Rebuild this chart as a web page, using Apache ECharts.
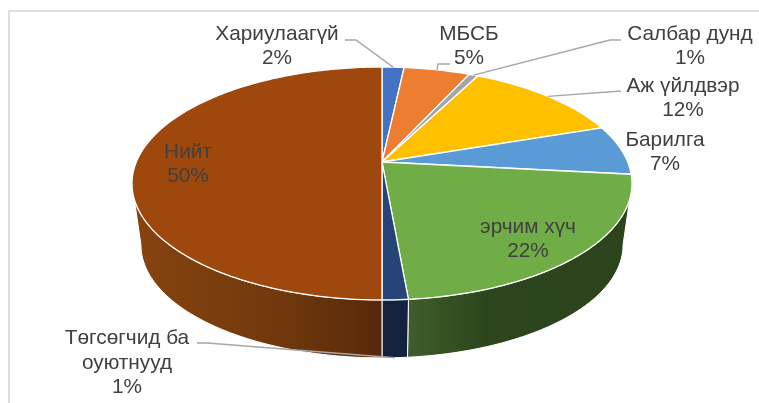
<!DOCTYPE html>
<html>
<head>
<meta charset="utf-8">
<style>html,body{margin:0;padding:0;background:#fff}#chart{width:759px;height:403px}</style>
<script src="https://cdn.jsdelivr.net/npm/echarts@6/dist/echarts.min.js"></script>
</head>
<body>
<div id="chart"></div>
<script>
const categories = ["Хариулаагүй", "МБСБ", "Салбар дунд", "Аж үйлдвэр", "Барилга", "эрчим хүч", "Төгсөгчид ба\nоуютнууд", "Нийт"];
const shares = [1.7, 5.1, 0.7, 12.3, 6.9, 21.9, 1.4, 50];
const colors = ["#4472c4", "#ed7d31", "#a5a5a5", "#ffc000", "#5b9bd5", "#70ad47", "#264478", "#9e480e"];

// where each label sits, and the elbow of its leader line
const labelSpots = [
  { x: 277, y: 46.5, line: [[345, 40], [356, 40]] },
  { x: 469, y: 46.5, line: [[450, 64], [438, 64]] },
  { x: 690, y: 46.5, line: [[621, 40], [610, 40]] },
  { x: 683, y: 98.5, line: [[621, 91]] },
  { x: 665, y: 152.5 },
  { x: 528, y: 239.5 },
  { x: 127, y: 363, line: [[197, 343], [207, 343]], onBase: true },
  { x: 188, y: 164.5 },
];

// tilted disc: lid and base are the same circle seen in perspective
const lid = { x: 382, y: 162, a: 245.7, b: 112.5, k: 0.1845 };
const base = { x: 382, y: 224.2, a: 236.9, b: 109, k: 0.1845 };
const WALL_FROM = 100.6, WALL_TO = 259.4;

const total = shares.reduce((s, v) => s + v, 0);
const starts = [];
shares.reduce((s, v, i) => ((starts[i] = s), s + v), 0);
const toDeg = (share) => (share / total) * 360;

function project(disc, deg) {
  const t = (deg * Math.PI) / 180;
  const u = Math.sin(t), v = -Math.cos(t);
  const w = 1 - disc.k * v;
  return [disc.x + (disc.a * u) / w, disc.y + (disc.b * v) / w];
}

function arc(disc, from, to) {
  const pts = [];
  const n = Math.max(2, Math.ceil(Math.abs(to - from)));
  for (let i = 0; i <= n; i++) pts.push(project(disc, from + ((to - from) * i) / n));
  return pts;
}

const wallFills = {
  5: [[0, "#3f5e2a"], [0.35, "#2d451c"], [1, "#2c431b"]],
  6: [[0, "#13233f"], [1, "#13233f"]],
  7: [[0, "#874410"], [0.6, "#70380c"], [1, "#57290a"]],
};

const tableData = shares.map((v, i) => [i, v]);

function renderLid(params, api) {
  const i = api.value(0);
  const from = toDeg(starts[i]);
  const to = from + toDeg(api.value(1));
  return {
    type: "polygon",
    shape: { points: [[lid.x, lid.y], ...arc(lid, from, to)] },
    style: { fill: colors[i], stroke: "#fff", lineWidth: 1.3 },
  };
}

function renderWall(params, api) {
  const i = api.value(0);
  const fill = wallFills[i];
  if (!fill) return null;
  const from = Math.max(toDeg(starts[i]), WALL_FROM);
  const to = Math.min(toDeg(starts[i]) + toDeg(api.value(1)), WALL_TO);
  return {
    type: "polygon",
    shape: { points: [...arc(lid, from, to), ...arc(base, to, from)] },
    style: {
      fill: new echarts.graphic.LinearGradient(0, 0, 1, 0, fill.map(([offset, color]) => ({ offset, color }))),
      stroke: "#fff",
      lineWidth: 1,
    },
  };
}

function renderLabel(params, api) {
  const i = api.value(0);
  const spot = labelSpots[i];
  const children = [];
  if (spot.line) {
    const mid = toDeg(starts[i]) + toDeg(api.value(1)) / 2;
    children.push({
      type: "polyline",
      shape: { points: [...spot.line, project(spot.onBase ? base : lid, mid)] },
      style: { fill: null, stroke: "#a6a6a6", lineWidth: 1.4 },
    });
  }
  children.push({
    type: "text",
    style: {
      x: spot.x,
      y: spot.y,
      text: categories[i] + "\n" + Math.round(api.value(1)) + "%",
      align: "center",
      verticalAlign: "middle",
      fill: "#404040",
      font: '20.8px "Liberation Sans", Arial, sans-serif',
      lineHeight: 24.5,
    },
  });
  return { type: "group", children };
}

const chart = echarts.init(document.getElementById("chart"), null, { renderer: "canvas" });

chart.setOption({
  animation: false,
  backgroundColor: "#fff",
  graphic: [
    {
      type: "rect",
      shape: { x: 9, y: 11, width: 900, height: 600 },
      style: { fill: null, stroke: "#dedede", lineWidth: 2 },
      silent: true,
    },
  ],
  series: [
    { type: "custom", coordinateSystem: "none", silent: true, z: 2, data: tableData, renderItem: renderWall },
    { type: "custom", coordinateSystem: "none", silent: true, z: 3, data: tableData, renderItem: renderLid },
    { type: "custom", coordinateSystem: "none", silent: true, z: 4, data: tableData, renderItem: renderLabel },
  ],
});
</script>
</body>
</html>
